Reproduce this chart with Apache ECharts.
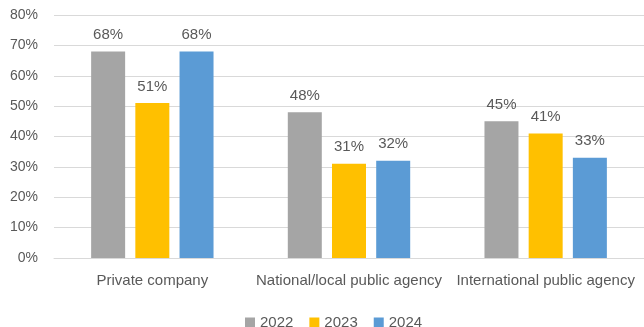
<!DOCTYPE html>
<html>
<head>
<meta charset="utf-8">
<script src="https://cdn.jsdelivr.net/npm/echarts@6/dist/echarts.min.js"></script>
<style>
  html, body { margin: 0; padding: 0; background: #fff; }
  #chart { width: 644px; height: 327px; }
</style>
</head>
<body>
<div id="chart"></div>
<script>
// Share of respondents by employer type, per survey year (percent)
const categories = ['Private company', 'National/local public agency', 'International public agency'];
const years = ['2022', '2023', '2024'];
const values2022 = [68, 48, 45];
const values2023 = [51, 31, 41];
const values2024 = [68, 32, 33];
const colors = ['#A5A5A5', '#FFC000', '#5B9BD5'];

const seriesValues = [values2022, values2023, values2024];
const fontFamily = '"Liberation Sans", Arial, sans-serif';
const textColor = '#595959';

const chart = echarts.init(document.getElementById('chart'), null, { renderer: 'canvas' });
chart.setOption({
  animation: false,
  textStyle: { fontFamily: fontFamily },
  grid: { left: 54, right: 0, top: 15, bottom: 69 },
  legend: {
    data: years,
    left: 240,
    top: 310,
    itemWidth: 10,
    itemHeight: 10,
    itemGap: 16,
    icon: 'rect',
    textStyle: { fontSize: 15, color: textColor, fontFamily: fontFamily }
  },
  xAxis: {
    type: 'category',
    data: categories,
    axisTick: { show: false },
    axisLine: { lineStyle: { color: '#D9D9D9', width: 1 } },
    axisLabel: { color: textColor, fontSize: 15, margin: 15, interval: 0 }
  },
  yAxis: {
    type: 'value',
    min: 0,
    max: 80,
    interval: 10,
    axisLine: { show: false },
    axisTick: { show: false },
    splitLine: { lineStyle: { color: '#D9D9D9', width: 1 } },
    axisLabel: { color: textColor, fontSize: 14, margin: 16, formatter: '{value}%' }
  },
  series: years.map((y, i) => ({
    name: y,
    type: 'bar',
    data: seriesValues[i],
    barWidth: 34,
    barGap: '30%',
    itemStyle: { color: colors[i] },
    label: {
      show: true,
      position: 'top',
      distance: 9,
      color: textColor,
      fontSize: 15,
      formatter: p => p.value + '%'
    }
  }))
});
</script>
</body>
</html>
